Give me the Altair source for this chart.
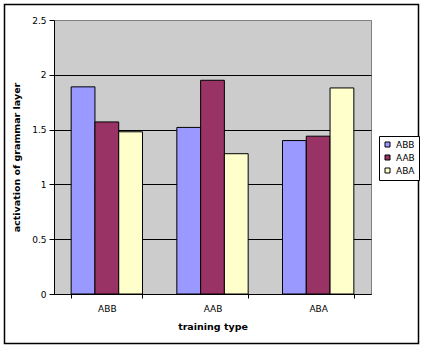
import altair as alt
import pandas as pd

training_types = ["ABB", "AAB", "ABA"]
test_types = ["ABB", "AAB", "ABA"]
vals_ABB = [1.89, 1.52, 1.40]
vals_AAB = [1.57, 1.95, 1.44]
vals_ABA = [1.48, 1.28, 1.88]
colors = ["#9999ff", "#993366", "#ffffcc"]
y_ticks = [0, 0.5, 1, 1.5, 2, 2.5]

rows = []
for series, vals in zip(test_types, [vals_ABB, vals_AAB, vals_ABA]):
    for t, v in zip(training_types, vals):
        rows.append({"training": t, "series": series, "value": v})
df = pd.DataFrame(rows)

FONT = "DejaVu Sans"

bars = alt.Chart(df).mark_bar(stroke="black", strokeWidth=1).encode(
    x=alt.X("training:N", sort=training_types,
            scale=alt.Scale(paddingInner=0.325, paddingOuter=0.1625),
            axis=alt.Axis(title="training type", labelAngle=0, tickBand="extent",
                          domainColor="black", tickColor="black", tickSize=4,
                          labelFont=FONT, labelFontSize=9, labelColor="black",
                          labelPadding=6, titleFont=FONT, titleFontSize=9.5,
                          titleFontWeight="bold", titleColor="black", titlePadding=8)),
    xOffset=alt.XOffset("series:N", sort=test_types,
                        scale=alt.Scale(paddingInner=0, paddingOuter=0)),
    y=alt.Y("value:Q", scale=alt.Scale(domain=[0, 2.5], nice=False),
            axis=alt.Axis(title="activation of grammar layer", values=y_ticks,
                          format="~g", grid=True,
                          gridColor={"condition": {"test": "datum.value === 2.5", "value": "#808080"}, "value": "black"},
                          gridOpacity=1, domainColor="black", tickColor="black",
                          tickSize=5, labelFont=FONT, labelFontSize=9,
                          labelColor="black", labelPadding=3, titleFont=FONT,
                          titleFontSize=9.5, titleFontWeight="bold", titleColor="black",
                          titlePadding=10)),
    color=alt.Color("series:N", sort=test_types,
                    scale=alt.Scale(domain=test_types, range=colors),
                    legend=alt.Legend(title=None, orient="none", legendX=325, legendY=116,
                                      strokeColor="black", fillColor="white", padding=4,
                                      symbolType="square", symbolSize=25,
                                      symbolStrokeColor="black", symbolStrokeWidth=1,
                                      symbolOpacity=1, labelFont=FONT, labelFontSize=9,
                                      labelColor="black", rowPadding=3, labelOffset=4)),
)

frame = alt.Chart(pd.DataFrame({"a": [0]})).mark_rect(
    fill=None, stroke="black", strokeWidth=1.5
).encode(
    x=alt.value(-49.5), x2=alt.value(364.5), y=alt.value(-15.5), y2=alt.value(323.5)
)

chart = alt.layer(bars, frame).properties(
    width=317, height=274,
    padding={"left": 54, "top": 20, "right": 52, "bottom": 53},
    autosize=alt.AutoSizeParams(type="none"),
    background="white",
).configure_view(fill="#cccccc", stroke="#808080", strokeWidth=1)

chart.save("out.html", embed_options={"renderer": "svg", "actions": False})
